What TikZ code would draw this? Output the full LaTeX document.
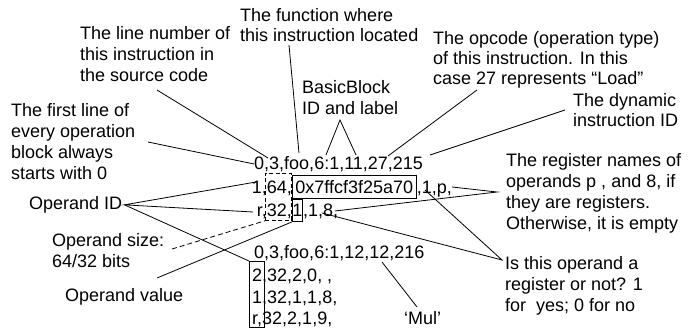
\documentclass[tikz,border=0pt]{standalone}
\usepackage{fontspec}
\setmainfont{Liberation Sans}
\begin{document}
\begin{tikzpicture}[x=1pt,y=-1pt,
  lbl/.style={align=left, anchor=north west, inner sep=0pt, font=\fontsize{18}{21}\selectfont},
  lbltight/.style={lbl, font=\fontsize{18}{20}\selectfont},
  txt/.style={anchor=base west, inner sep=0pt, font=\fontsize{18}{21}\selectfont},
  valbox/.style={draw, line width=0.8pt, anchor=base west, inner ysep=5pt, inner xsep=3pt, font=\fontsize{18}{21}\selectfont},
  conn/.style={line width=0.8pt},
  dashconn/.style={conn, dash pattern=on 5pt off 3pt}
]
\useasboundingbox (0,0) rectangle (694,328);

% labels
\node[lbl] (lfirst) at (11,103.5) {\rule{0pt}{13pt}The first line of\\every operation\\block always\\starts with 0};
\node[lbl] (lline) at (80,26.5) {\rule{0pt}{13pt}The line number of\\this instruction in\\the source code};
\node[lbltight] (lfunc) at (240,8.5) {\rule{0pt}{13pt}The function where\\this instruction located};
\node[lbl] (lbb) at (302,80.5) {\rule{0pt}{13pt}BasicBlock\\ID and label};
\node[lbltight] (lopc) at (433,31.5) {\rule{0pt}{13pt}The opcode (operation type)\\of this instruction. In this\\case 27 represents “Load”};
\node[lbltight] (ldyn) at (573,93.5) {\rule{0pt}{13pt}The dynamic\\instruction ID};
\node[lbl] (lreg) at (506,153.5) {\rule{0pt}{13pt}The register names of\\operands p , and 8, if\\they are registers.\\Otherwise, it is empty};
\node[lbl] (lisreg) at (505,256.5) {\rule{0pt}{13pt}Is this operand a\\register or not? 1\\for\ \ yes; 0 for no};
\node[txt] (lopid) at (29,209.5) {Operand ID};
\node[lbl] (lopsize) at (52,233.5) {\rule{0pt}{13pt}Operand size:\\64/32 bits};
\node[txt] (lopval) at (65,301.5) {Operand value};
\node[txt] (lmul) at (404,324.5) {‘Mul’};

% data rows
\node[txt] (rowA) at (254,169.5) {0,3,foo,6:1,11,27,215};
\node[valbox] (addr) at (292,193.5) {0x7ffcf3f25a70};
\node[txt, anchor=base east] (rowB1) at (addr.base west) {1,64,};
\node[txt] (rowB2) at (addr.base east) {,1,p,};
\node[valbox, inner xsep=0pt] (opval) at (292,216.5) {1};
\node[txt, anchor=base east] (rowC1) at (opval.base west) {r,32,};
\node[txt] (rowC2) at (opval.base east) {,1,8,};
\node[txt] (rowD) at (254,258.5) {0,3,foo,6:1,12,12,216};
\node[txt] (rowE) at (252,281.5) {2,32,2,0, ,};
\node[txt] (rowF) at (252,303.5) {1,32,1,1,8,};
\node[txt] (rowG) at (252,324.5) {r,32,2,1,9,};

% boxes
\node[draw, line width=0.8pt, minimum width=15pt, minimum height=66pt, anchor=north west, inner sep=0pt] (colbox) at (249,261) {};
\node[draw, line width=0.8pt, dash pattern=on 4pt off 2.5pt, minimum width=26pt, minimum height=47pt, anchor=north west, inner sep=0pt] (sizebox) at (265,173) {};

% connector end points
\coordinate (sfirst) at (148,142);
\coordinate (efirst) at (254,164);
\coordinate (sline) at (157,90);
\coordinate (eline) at (268,158);
\coordinate (sfunc) at (289,45);
\coordinate (efunc) at (299,153);
\coordinate (abb) at (340,120);
\coordinate (ebbl) at (326,155);
\coordinate (ebbr) at (356,155);
\coordinate (sopc) at (477,90);
\coordinate (eopc) at (388,156);
\coordinate (sdyn) at (565,110);
\coordinate (edyn) at (430,155);
\coordinate (areg) at (497,192);
\coordinate (eregp) at (452,187);
\coordinate (eregc) at (335,211);
\coordinate (ais) at (502,260);
\coordinate (eisb) at (425,190);
\coordinate (eisc) at (322,213);
\coordinate (aopid) at ([xshift=2pt]lopid.east);
\coordinate (eidb) at (256,182);
\coordinate (eidc) at (253,212);
\coordinate (ssize) at (172,249);
\coordinate (sval) at (157,278);
\coordinate (smul) at (382,262);
\coordinate (emul) at (417,307);

% connectors
\draw[conn] (sfirst) -- (efirst);
\draw[conn] (sline) -- (eline);
\draw[conn] (sfunc) -- (efunc);
\draw[conn] (ebbl) -- (abb) -- (ebbr);
\draw[conn] (sopc) -- (eopc);
\draw[conn] (sdyn) -- (edyn);
\draw[conn] (eregp) -- (areg) -- (eregc);
\draw[conn] (eisb) -- (ais) -- (eisc);
\draw[conn] (eidb) -- (aopid) -- (eidc);
\draw[conn] (aopid) -- (colbox.north west);
\draw[dashconn] (ssize) -- (sizebox.south west);
\draw[conn] (sval) -- (opval.south west);
\draw[conn] (emul) -- (smul);
\end{tikzpicture}
\end{document}
